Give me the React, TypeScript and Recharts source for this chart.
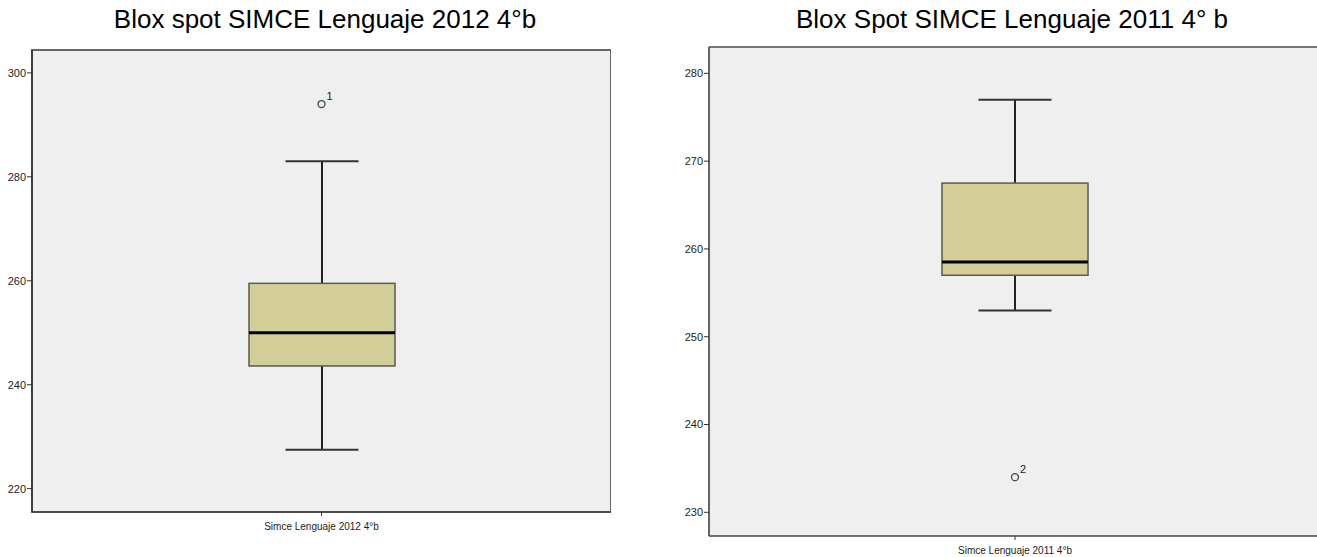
import { ComposedChart, Bar, Scatter, XAxis, YAxis, ReferenceArea, ReferenceLine, CartesianGrid } from "recharts";

const labels = ["Simce Lenguaje 2012 4°b", "Simce Lenguaje 2011 4°b"];
const titles = ["Blox spot SIMCE Lenguaje 2012 4°b", "Blox Spot SIMCE Lenguaje 2011 4° b"];
const whiskerLow = [227.5, 253];
const q1 = [243.6, 257];
const median = [250, 258.5];
const q3 = [259.5, 267.5];
const whiskerHigh = [283, 277];
const outliers = [294, 234];
const outlierIds = ["1", "2"];
const yTicks = [
  [220, 240, 260, 280, 300],
  [230, 240, 250, 260, 270, 280],
];
const yDomains: [number, number][] = [
  [215.5, 304.4],
  [227.3, 283],
];

const FONT = "Arial, 'Liberation Sans', sans-serif";

function BoxShape(props: any) {
  const { x, y, width, height, payload } = props;
  const top = Math.min(y, y + height);
  const h = Math.abs(height);
  const lo = payload.low;
  const hi = payload.high;
  const py = (v: number) => top + ((hi - v) / (hi - lo)) * h;
  const cx = x + width / 2;
  const cap = width * 0.5;
  return (
    <g>
      <line x1={cx} x2={cx} y1={py(hi)} y2={py(payload.q3)} stroke="#222" strokeWidth={2} />
      <line x1={cx} x2={cx} y1={py(payload.q1)} y2={py(lo)} stroke="#222" strokeWidth={2} />
      <line x1={cx - cap / 2} x2={cx + cap / 2} y1={py(hi)} y2={py(hi)} stroke="#333" strokeWidth={2} />
      <line x1={cx - cap / 2} x2={cx + cap / 2} y1={py(lo)} y2={py(lo)} stroke="#333" strokeWidth={2} />
      <rect
        x={x}
        y={py(payload.q3)}
        width={width}
        height={py(payload.q1) - py(payload.q3)}
        fill="#d3ce98"
        stroke="#5a5a50"
        strokeWidth={1.5}
      />
      <line x1={x} x2={x + width} y1={py(payload.median)} y2={py(payload.median)} stroke="#000" strokeWidth={3} />
    </g>
  );
}

function OutlierShape(props: any) {
  const { cx, cy, payload } = props;
  return (
    <g>
      <circle cx={cx} cy={cy} r={3.5} fill="none" stroke="#444" strokeWidth={1.3} />
      <text x={cx + 5} y={cy - 4} fontSize={11} fontFamily={FONT} fill="#222">
        {payload.id}
      </text>
    </g>
  );
}

function BoxChart({
  i,
  width,
  marginTop,
  marginBottom,
  marginRight,
  rightBorder,
}: {
  i: number;
  width: number;
  marginTop: number;
  marginBottom: number;
  marginRight: number;
  rightBorder: boolean;
}) {
  const data = [
    {
      name: labels[i],
      range: [whiskerLow[i], whiskerHigh[i]],
      low: whiskerLow[i],
      q1: q1[i],
      median: median[i],
      q3: q3[i],
      high: whiskerHigh[i],
      outlier: outliers[i],
      id: outlierIds[i],
    },
  ];
  return (
    <ComposedChart
      width={width}
      height={557}
      data={data}
      margin={{ top: marginTop, right: marginRight, bottom: marginBottom, left: 0 }}
    >
      <CartesianGrid fill="#efefef" horizontal={false} vertical={false} />
      {rightBorder ? (
        <ReferenceArea y1={yDomains[i][0]} y2={yDomains[i][1]} fill="none" stroke="#666" strokeWidth={2} />
      ) : (
        <ReferenceLine y={yDomains[i][1]} stroke="#777" strokeWidth={2} />
      )}
      <XAxis
        dataKey="name"
        height={20}
        tickSize={4}
        tickMargin={7}
        axisLine={{ stroke: "#444", strokeWidth: 1.5 }}
        tickLine={{ stroke: "#333" }}
        tick={{ fill: "#222", fontSize: 10, fontFamily: FONT }}
      />
      <YAxis
        width={32}
        type="number"
        domain={yDomains[i]}
        ticks={yTicks[i]}
        allowDataOverflow
        tickSize={5}
        tickMargin={1}
        axisLine={{ stroke: "#333", strokeWidth: 1.5 }}
        tickLine={{ stroke: "#333" }}
        tick={{ fill: "#222", fontSize: 11, fontFamily: FONT }}
      />
      <Bar dataKey="range" barSize={146} shape={<BoxShape />} isAnimationActive={false} />
      <Scatter dataKey="outlier" shape={<OutlierShape />} isAnimationActive={false} />
    </ComposedChart>
  );
}

export default function App() {
  const titleStyle = {
    position: "absolute" as const,
    top: 4,
    fontFamily: FONT,
    fontSize: 26,
    lineHeight: "30px",
    color: "#000",
    textAlign: "center" as const,
    width: 700,
    whiteSpace: "nowrap" as const,
  };
  return (
    <div
      style={{
        position: "absolute",
        left: 0,
        top: 0,
        width: 1317,
        height: 557,
        overflow: "hidden",
        background: "#fff",
      }}
    >
      <div style={{ ...titleStyle, left: -25 }}>{titles[0]}</div>
      <div style={{ ...titleStyle, left: 662 }}>{titles[1]}</div>
      <div style={{ position: "absolute", left: 0, top: 0 }}>
        <BoxChart i={0} width={611} marginTop={50} marginBottom={25} marginRight={0} rightBorder />
      </div>
      <div style={{ position: "absolute", left: 677, top: 0, width: 700 }}>
        <BoxChart i={1} width={700} marginTop={47} marginBottom={1} marginRight={56} rightBorder={false} />
      </div>
    </div>
  );
}
